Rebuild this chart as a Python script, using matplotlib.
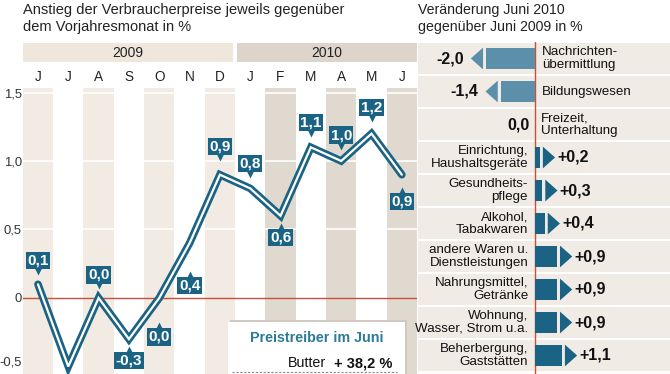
import matplotlib
matplotlib.use("Agg")
import matplotlib.pyplot as plt
from matplotlib.patches import Rectangle, Polygon
from matplotlib.transforms import offset_copy, blended_transform_factory, ScaledTranslation

plt.rcParams['font.family'] = ['Liberation Sans', 'DejaVu Sans']

# --- data ---------------------------------------------------------------
months = ['J', 'J', 'A', 'S', 'O', 'N', 'D', 'J', 'F', 'M', 'A', 'M', 'J']
years = ['2009', '2010']
months_per_year = [7, 6]
inflation = [0.1, -0.5, 0.0, -0.3, 0.0, 0.4, 0.9, 0.8, 0.6, 1.1, 1.0, 1.2, 0.9]
ytick_values = [1.5, 1.0, 0.5, 0.0, -0.5]
ytick_labels = ['1,5', '1,0', '0,5', '0', '-0,5']

categories = ['Nachrichten-\nübermittlung', 'Bildungswesen', 'Freizeit,\nUnterhaltung',
              'Einrichtung,\nHaushaltsgeräte', 'Gesundheits-\npflege', 'Alkohol,\nTabakwaren',
              'andere Waren u.\nDienstleistungen', 'Nahrungsmittel,\nGetränke',
              'Wohnung,\nWasser, Strom u.a.', 'Beherbergung,\nGaststätten']
changes = [-2.0, -1.4, 0.0, 0.2, 0.3, 0.4, 0.9, 0.9, 0.9, 1.1]

driver_item = 'Butter'
driver_value = '+ 38,2 %'

# label box offsets in pixels (None = no label visible)
label_dy = [24, None, 23, -21, -39, -42, 28, 25, -22, 25, 26, 26, -27]

# --- colours ------------------------------------------------------------
teal = '#1b6384'
neg_blue = '#5b8faa'
stripe09 = '#f2ebe3'
stripe10 = '#e0d9d0'
band09 = '#efe6dc'
band10 = '#ddd5cb'
row_bg = '#f0ebe5'
red = '#c8503a'

W, H = 670, 374
fig = plt.figure(figsize=(W / 100, H / 100), dpi=100)


def fx(px):
    return px / W


def fy(py):
    return 1 - py / H


# --- left: line chart ---------------------------------------------------
ax = fig.add_axes([fx(22.8), 0, fx(417) - fx(22.8), (H - 88) / H])
n = len(months)
ax.set_xlim(-0.5, n - 0.5)
ax.set_ylim(-0.555, 1.533)
for s in ax.spines.values():
    s.set_visible(False)

start = 0
for k, cnt in enumerate(months_per_year):
    for i in range(start, start + cnt):
        if i % 2 == 0:
            ax.axvspan(i - 0.5, i + 0.5, color=stripe09 if k == 0 else stripe10, lw=0, zorder=0)
    start += cnt

for yv in [0.5, 1.0, 1.5]:
    ax.axhline(yv, color='white', lw=1.2, zorder=1)
ax.axhline(0, color=red, lw=1, zorder=1)

ax.set_xticks([])
ax.set_yticks(ytick_values)
ax.set_yticklabels(ytick_labels, fontsize=9.4, color='#333333')
ax.tick_params(axis='y', length=0, pad=0.6)
# lowest label sits at the bottom edge: nudge it up so it stays visible
low = ax.get_yticklabels()[-1]
low.set_transform(low.get_transform() + ScaledTranslation(0, 5 / 100, fig.dpi_scale_trans))

x = list(range(n))
ax.plot(x, inflation, color=teal, lw=5.5, solid_joinstyle='miter', solid_capstyle='round', zorder=3)
ax.plot(x, inflation, color='white', lw=1.6, solid_joinstyle='miter', solid_capstyle='round', zorder=4)

for i, (v, dy) in enumerate(zip(inflation, label_dy)):
    if dy is None:
        continue
    txt = f"{v:.1f}".replace('.', ',')
    ax.annotate(txt, (i, v), xytext=(0, dy), textcoords='offset pixels',
                ha='center', va='center', color='white', fontsize=11, fontweight='bold',
                bbox=dict(boxstyle='square,pad=0.1', fc=teal, ec='none'), zorder=6)
    sgn = 1 if dy > 0 else -1
    tri = offset_copy(ax.transData, fig=fig, x=0, y=dy - sgn * 10.5, units='dots')
    ax.plot(i, v, marker='v' if dy > 0 else '^', ms=5.5, color=teal, mec='none',
            transform=tri, zorder=6, clip_on=False)

# month letters and year bands
bt = blended_transform_factory(ax.transData, ax.transAxes)
for i, m in enumerate(months):
    ax.text(i, 1.038, m, transform=bt, ha='center', va='center', fontsize=9.8, color='#222222')
start = 0
for k, (yr, cnt) in enumerate(zip(years, months_per_year)):
    x0 = start - 0.5 + (0.06 if k > 0 else 0)
    x1 = start + cnt - 0.5 - (0.06 if k == 0 else 0)
    ax.add_patch(Rectangle((x0, 1.091), x1 - x0, 0.066, transform=bt,
                           color=band09 if k == 0 else band10, lw=0, clip_on=False))
    ax.text((x0 + x1) / 2, 1.124, yr, transform=bt, ha='center', va='center',
            fontsize=10, color='#222222')
    start += cnt

fig.text(fx(23), fy(10), 'Anstieg der Verbraucherpreise jeweils gegenüber',
         fontsize=10.5, va='center', color='#222222')
fig.text(fx(23), fy(27), 'dem Vorjahresmonat in %', fontsize=10.5, va='center', color='#222222')

# price driver box
fig.add_artist(Rectangle((fx(230), 0), fx(407) - fx(230), fy(320) - 0,
                         transform=fig.transFigure, fc='#cfc9c2', ec='none', zorder=7))
fig.add_artist(Rectangle((fx(228), 0), fx(405) - fx(228), fy(322) - 0,
                         transform=fig.transFigure, fc='white', ec='none', zorder=8))
fig.text(fx(317), fy(338), 'Preistreiber im Juni', fontsize=10.3, fontweight='bold',
         color='#2a7b97', ha='center', va='center', zorder=9)
fig.text(fx(326), fy(363), driver_item, fontsize=10.3, ha='right', va='center',
         color='#111111', zorder=9)
fig.text(fx(334), fy(363), driver_value, fontsize=10.5, fontweight='bold', ha='left',
         va='center', color='#111111', zorder=9)
fig.add_artist(plt.Line2D([fx(232), fx(397)], [fy(372), fy(372)], transform=fig.transFigure,
                          color='#888888', lw=0.8, ls=(0, (2, 1.5)), zorder=9))

# --- right: bar chart ---------------------------------------------------
ax2 = fig.add_axes([fx(418), 0, 1 - fx(418), (H - 42) / H])
px_per_unit = 24.5
ax2.set_xlim((418 - 535) / px_per_unit, (670 - 535) / px_per_unit)
ax2.set_ylim(-0.5 + 332 / 33, -0.5)
ax2.axis('off')

rows = list(range(len(categories)))
ax2.barh(rows, [20] * len(rows), left=-10, height=0.93, color=row_bg, lw=0, zorder=0)
ax2.axvline(0, color=red, lw=1, zorder=1)

bar_h = 0.66
gap, head = 0.12, 0.5
for i, (cat, v) in enumerate(zip(categories, changes)):
    txt = f"{v:+.1f}".replace('.', ',') if v != 0 else '0,0'
    if v == 0:
        ax2.text(-0.2, i, txt, ha='right', va='center', fontsize=11.5, fontweight='bold', color='#111111')
        ax2.text(0.25, i, cat, ha='left', va='center', fontsize=9.6, color='#111111', linespacing=1.05)
        continue
    sgn = 1 if v > 0 else -1
    col = teal if v > 0 else neg_blue
    ax2.barh(i, v, height=bar_h, color=col, lw=0, zorder=2)
    b = v + sgn * gap
    tip = b + sgn * head
    ax2.add_patch(Polygon([(b, i - bar_h / 2), (b, i + bar_h / 2), (tip, i)],
                          closed=True, color=col, lw=0, zorder=2))
    if v > 0:
        ax2.text(tip + 0.08, i, txt, ha='left', va='center', fontsize=11.5, fontweight='bold', color='#111111')
        ax2.text(-0.28, i, cat, ha='right', va='center', fontsize=9.6, color='#111111', linespacing=1.05)
    else:
        ax2.text(tip - 0.28, i, txt, ha='right', va='center', fontsize=11.5, fontweight='bold', color='#111111')
        ax2.text(0.28, i, cat, ha='left', va='center', fontsize=9.6, color='#111111', linespacing=1.05)

fig.text(fx(418), fy(10), 'Veränderung Juni 2010', fontsize=10.2, va='center', color='#222222')
fig.text(fx(418), fy(27), 'gegenüber Juni 2009 in %', fontsize=10.2, va='center', color='#222222')

fig.savefig('out.png', dpi=100)
